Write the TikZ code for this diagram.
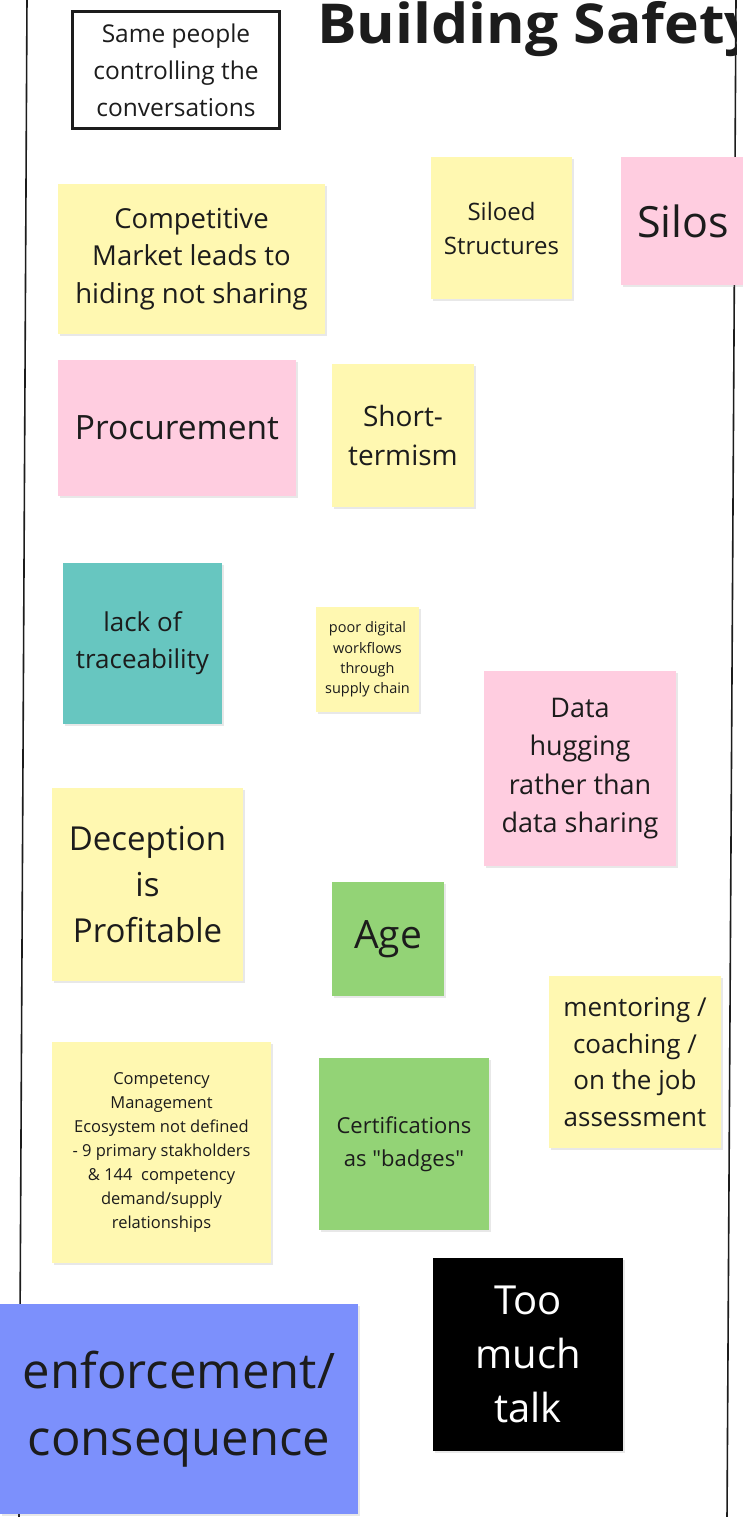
\documentclass[tikz,border=0pt]{standalone}
\usepackage{fontspec}
\setmainfont{Open Sans}
\newfontfamily\titlefont{Open Sans}[FakeStretch=1.07]
\newfontfamily\qfont{Open Sans}[Ligatures=TeXOff]
\newcommand{\sq}{{\qfont"}}
\usetikzlibrary{shadows}
\definecolor{nyellow}{RGB}{255,248,177}
\definecolor{npink}{RGB}{255,205,224}
\definecolor{nteal}{RGB}{103,198,192}
\definecolor{ngreen}{RGB}{147,211,118}
\definecolor{nblue}{RGB}{124,144,252}
\definecolor{ntext}{RGB}{28,28,28}
\tikzset{
  note/.style={rectangle, inner sep=0pt, align=center, text=ntext,
    drop shadow={shadow xshift=1.5pt, shadow yshift=-2pt, opacity=0.18, fill=gray}},
  fs/.style 2 args={font=\fontsize{#1}{#2}\selectfont},
  frameline/.style={draw=ntext, line width=1.6pt}
}
\begin{document}
\begin{tikzpicture}[x=1pt,y=-1pt]
\useasboundingbox (0,0) rectangle (743,1517);
\fill[white] (0,0) rectangle (743,1517);
% title, clipped at the frame
\begin{scope}
  \clip (0,0) rectangle (736,80);
  \node[anchor=base west, inner sep=0pt, text=ntext, font=\titlefont\bfseries\fontsize{55}{60}\selectfont] (title) at (317,44) {Building Safety};
\end{scope}
% frame lines
\coordinate (lt) at (27,-2);
\coordinate (lb) at (19,1519);
\coordinate (rt) at (736,-2);
\coordinate (rb) at (727,1519);
\draw[frameline] (lt) -- (lb);
\draw[frameline] (rt) -- (rb);
% box
\node[rectangle, draw=ntext, line width=3pt, fill=white, inner sep=0pt, align=center, text=ntext,
  minimum width=207pt, minimum height=117pt, fs={24.5}{37}] (same) at (176,70)
  {Same people\\controlling the\\conversations};
% notes
\node[note, fill=nyellow, minimum width=267pt, minimum height=150pt, fs={27.5}{37.5}] (comp) at (191.5,259)
  {Competitive\\Market leads to\\hiding not sharing};
\node[note, fill=nyellow, minimum width=141pt, minimum height=142pt, fs={24}{34}] (siloed) at (501.5,228)
  {Siloed\\Structures};
\node[note, fill=npink, minimum width=124pt, minimum height=128pt, fs={43}{50}] (silos) at (683,221)
  {Silos};
\node[note, fill=npink, minimum width=238pt, minimum height=136pt, fs={33.5}{40}] (proc) at (177,428)
  {Procurement};
\node[note, fill=nyellow, minimum width=142pt, minimum height=143pt, fs={28}{39}] (short) at (403,435.5)
  {Short-\\termism};
\node[note, fill=nteal, minimum width=159pt, minimum height=161pt, fs={26}{37}] (lack) at (142.5,643.5)
  {lack of\\traceability};
\node[note, fill=nyellow, minimum width=103pt, minimum height=105pt, fs={14.5}{20.3}] (poor) at (367.5,659.5)
  {poor digital\\workflows\\through\\supply chain};
\node[note, fill=npink, minimum width=192pt, minimum height=195pt, fs={27}{38.3}] (data) at (580,768.5)
  {Data\\hugging\\rather than\\data sharing};
\node[note, fill=nyellow, minimum width=191pt, minimum height=193pt, fs={33}{46}] (decep) at (147.5,884.5)
  {Deception\\is\\Profitable};
\node[note, fill=ngreen, minimum width=112pt, minimum height=114pt, fs={39}{46}] (age) at (388,939)
  {Age};
\node[note, fill=nyellow, minimum width=172pt, minimum height=172pt, fs={26}{36.5}] (mentor) at (635,1062)
  {mentoring /\\coaching /\\on the job\\assessment};
\node[note, fill=nyellow, minimum width=219pt, minimum height=221pt, fs={16.5}{24}] (compet) at (161.5,1152.5)
  {Competency\\Management\\Ecosystem not defined\\- 9 primary stakholders\\\& 144\ \ competency\\demand/supply\\relationships};
\node[note, fill=ngreen, minimum width=170pt, minimum height=172pt, fs={22}{33}] (cert) at (404,1144)
  {Certifications\\as \sq badges\sq};
\node[note, fill=black, text=white, minimum width=190pt, minimum height=193pt, fs={40}{54}] (talk) at (528,1354.5)
  {Too\\much\\talk};
\node[note, fill=nblue, minimum width=358pt, minimum height=210pt, fs={49}{67}] (enf) at (179,1409)
  {enforcement/\\consequence};
\end{tikzpicture}
\end{document}
